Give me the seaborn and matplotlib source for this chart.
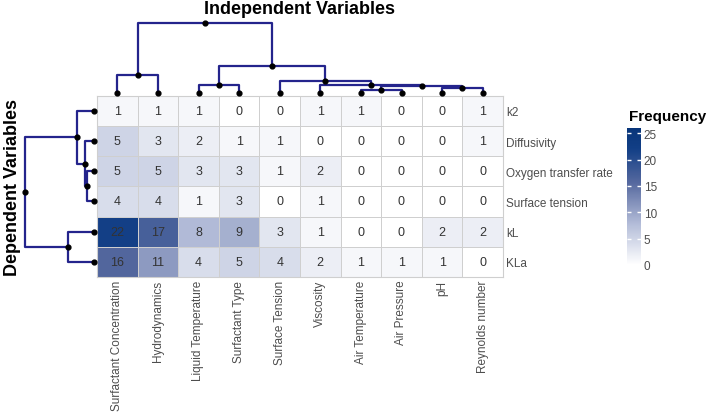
import pandas as pd
import seaborn as sns
import matplotlib.pyplot as plt
from matplotlib.colors import LinearSegmentedColormap


independent = ["Surfactant Concentration", "Hydrodynamics", "Liquid Temperature",
               "Surfactant Type", "Surface Tension", "Viscosity", "Air Temperature",
               "Air Pressure", "pH", "Reynolds number"]
dependent = ["k2", "Diffusivity", "Oxygen transfer rate", "Surface tension", "kL", "KLa"]

k2 = [1, 1, 1, 0, 0, 1, 1, 0, 0, 1]
diffusivity = [5, 3, 2, 1, 1, 0, 0, 0, 0, 1]
oxygen_transfer_rate = [5, 5, 3, 3, 1, 2, 0, 0, 0, 0]
surface_tension = [4, 4, 1, 3, 0, 1, 0, 0, 0, 0]
kl = [22, 17, 8, 9, 3, 1, 0, 0, 2, 2]
kla = [16, 11, 4, 5, 4, 2, 1, 1, 1, 0]

# dendrogram merges: (child a, child b, height)
# ids below n are leaves in heatmap order, n+k is the k-th merge
col_merges = [(6, 7, 1.1), (8, 9, 1.7), (10, 11, 2.5), (2, 3, 2.75), (5, 12, 2.85),
              (4, 14, 4.0), (0, 1, 6.3), (13, 15, 9.4), (16, 17, 24.0)]
row_merges = [(2, 3, 2.4), (1, 6, 3.2), (0, 7, 6.05), (4, 5, 9.0), (8, 9, 23.9)]

df = pd.DataFrame([k2, diffusivity, oxygen_transfer_rate, surface_tension, kl, kla],
                  index=dependent, columns=independent)

plt.rcParams["font.family"] = ["Liberation Sans", "DejaVu Sans"]

W, H = 709, 414
line_col = "#24248c"
text_col = "#4d4d4d"

cmap = LinearSegmentedColormap.from_list(
    "freq", [(0, "#ffffff"), (0.3, "#b3bcd8"), (0.6, "#56699f"),
             (0.85, "#123f86"), (1, "#08357a")])


def fig_rect(x0, y0, x1, y1):
    # pixel box -> figure fraction
    return [x0 / W, 1 - y1 / H, (x1 - x0) / W, (y1 - y0) / H]


def draw_dendrogram(ax, merges, n, side):
    pos = {i: i + 0.5 for i in range(n)}
    hgt = {i: 0.0 for i in range(n)}
    for k, (a, b, h) in enumerate(merges):
        pos[n + k] = (pos[a] + pos[b]) / 2
        hgt[n + k] = h
        xs = [pos[a], pos[a], pos[b], pos[b]]
        ys = [hgt[a], h, h, hgt[b]]
        if side == "left":
            xs, ys = ys, xs
        ax.plot(xs, ys, color=line_col, lw=1.6, clip_on=False, zorder=1)
    xs = list(pos.values())
    ys = list(hgt.values())
    if side == "left":
        xs, ys = ys, xs
    ax.scatter(xs, ys, s=12, color="black", zorder=2, clip_on=False)
    ax.axis("off")


fig = plt.figure(figsize=(7.09, 4.14), dpi=100)

ax = fig.add_axes(fig_rect(97, 96.7, 503, 278))
cax = fig.add_axes(fig_rect(627, 129, 641, 266))

sns.heatmap(df, ax=ax, cmap=cmap, vmin=0, vmax=26, annot=True, fmt="d",
            linewidths=0.6, linecolor="#cfcfcf", cbar_ax=cax,
            annot_kws={"color": "#333333", "fontsize": 9})

ax.yaxis.tick_right()
ax.tick_params(axis="both", length=0, labelsize=8.5, labelcolor=text_col)
ax.tick_params(axis="y", pad=2.5)
ax.tick_params(axis="x", pad=2)
plt.setp(ax.get_yticklabels(), rotation=0)
plt.setp(ax.get_xticklabels(), rotation=90)
ax.set_xlabel("")
ax.set_ylabel("")
for s in ax.spines.values():
    s.set_visible(True)
    s.set_color("#cfcfcf")
    s.set_linewidth(0.8)

cbar = ax.collections[0].colorbar
cbar.outline.set_visible(False)
cbar.set_ticks([0, 5, 10, 15, 20, 25])
cax.yaxis.set_ticks_position("both")
cax.tick_params(axis="y", color="white", length=3, width=1, direction="in",
                labelright=True, labelleft=False, labelsize=8.5,
                labelcolor=text_col, pad=2)

# column dendrogram above the heatmap
top_ax = fig.add_axes(fig_rect(97, 20, 503, 94))
top_ax.set_xlim(0, len(independent))
top_ax.set_ylim(0, 74 / 2.9)
draw_dendrogram(top_ax, col_merges, len(independent), "top")

# row dendrogram left of the heatmap
left_ax = fig.add_axes(fig_rect(20, 96.7, 94.3, 278))
left_ax.set_ylim(len(dependent), 0)
left_ax.set_xlim(74.3 / 2.9, 0)
draw_dendrogram(left_ax, row_merges, len(dependent), "left")

fig.text(300 / W, 1 - 10 / H, "Independent Variables", ha="center", va="center",
         fontsize=13, fontweight="bold")
fig.text(13 / W, 1 - 187 / H, "Dependent Variables", ha="center", va="center",
         rotation=90, fontsize=13, fontweight="bold")
fig.text(629 / W, 1 - 117 / H, "Frequency", ha="left", va="center",
         fontsize=11, fontweight="bold")

fig.savefig("out.png", dpi=100)
